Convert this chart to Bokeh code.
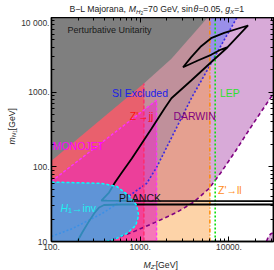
import math
import numpy as np
from bokeh.plotting import figure
from bokeh.layouts import column, row
from bokeh.models import Label, FixedTicker, LogAxis, Range1d
from bokeh.embed import file_html
from bokeh.resources import INLINE

# ---------------- axes ----------------
x_lo, x_hi = 100, 31800
y_lo, y_hi = 10, 10000
x_major = [100, 1000, 10000]
x_minor = [200, 300, 400, 500, 600, 700, 800, 900,
           2000, 3000, 4000, 5000, 6000, 7000, 8000, 9000, 20000, 30000]
y_major = [10, 100, 1000, 10000]
y_minor = [20, 30, 40, 50, 60, 70, 80, 90,
           200, 300, 400, 500, 600, 700, 800, 900,
           2000, 3000, 4000, 5000, 6000, 7000, 8000, 9000]
x_tick_labels = {100: "100.", 1000: "1000.", 10000: "10000."}
y_tick_labels = {10: "10.", 100: "100.", 1000: "1000.", 10000: "10 000."}

# ---------------- constraints ----------------
unit_mz = [100, 1100, 2249, 5758]          # perturbative unitarity boundary
unit_mn = [121, 1306, 2799, 10000]

zjj_mz = 1100                         # Z' -> jj
monojet_mz = 1530                     # MONOJET
monojet_top_mz = [100, 1530]
monojet_top_mn = [64, 780]
zll_mz = 6100                         # Z' -> ll
lep_mz = 7000                         # LEP

si_mz = [100, 172, 372, 706, 1183, 1528, 3758, 12300]
si_mn = [11.7, 14.9, 23.7, 38.8, 60, 98, 822, 10000]

darwin_mz = [422, 804, 1452, 2558, 3960, 5980, 8140, 11980, 16720, 22780, 31800, 40000]
darwin_mn = [10, 13.2, 17.9, 24.4, 33.3, 51.3, 84, 165.6, 307, 535, 960, 1500]
darwin2_mz = [26500, 27500, 29500, 31800]
darwin2_mn = [10, 11.2, 12.6, 13.2]

h1_mz = [100, 370, 545, 745, 915, 960, 890, 705, 505, 420]
h1_mn = [62.5, 60, 54.6, 41.3, 30.3, 22.3, 16.4, 12.8, 10.6, 10]

relic_a_mz = [195, 222, 259, 302, 344, 391, 621, 40000]
relic_a_mn = [10, 13.2, 17.9, 23.7, 28.5, 30.8, 31.3, 31.3]
relic_b_mz = [40000, 800, 420, 365, 445, 481, 519, 621, 804, 1040, 1344, 1878,
              2249, 3758, 6295, 9666, 16440,
              8851, 6295, 4864, 3758, 3039,
              4467, 6295, 8147, 9666]
relic_b_mn = [34.8, 34.9, 35.2, 35.4, 45.3, 53, 61.7, 84, 129, 205, 326, 604,
              830, 1432, 2518, 3999, 7816,
              6237, 5284, 4130, 2941, 2158,
              2655, 3163, 3724, 3999]

FONT = "Liberation Sans"

# ---------------- main plot ----------------
p = figure(width=256, height=237, x_axis_type="log", y_axis_type="log",
           x_range=Range1d(x_lo, x_hi), y_range=Range1d(y_lo, y_hi),
           output_backend="svg", toolbar_location=None,
           min_border_left=31, min_border_right=1, min_border_top=0,
           min_border_bottom=13)
p.grid.visible = False
p.background_fill_color = "white"
p.border_fill_color = "white"
p.outline_line_color = "black"
p.outline_line_width = 1.5

PURPLE = (158, 42, 158)
p.patch(darwin_mz + [darwin_mz[-1], x_lo, x_lo], darwin_mn + [y_hi, y_hi, y_lo],
        fill_color=PURPLE, fill_alpha=0.4, line_color=None)
p.patch(darwin2_mz + [darwin2_mz[-1]], darwin2_mn + [y_lo],
        fill_color=PURPLE, fill_alpha=0.4, line_color=None)
p.patch(si_mz + [x_lo], si_mn + [y_hi],
        fill_color=(80, 110, 255), fill_alpha=0.45, line_color=None)
p.patch([x_lo, zll_mz, zll_mz, x_lo], [y_lo, y_lo, y_hi, y_hi],
        fill_color=(250, 145, 38), fill_alpha=0.4, line_color=None)
p.patch([x_lo, zjj_mz, zjj_mz, x_lo], [y_lo, y_lo, y_hi, y_hi],
        fill_color=(255, 70, 85), fill_alpha=0.65, line_color=None)
p.patch([x_lo, monojet_mz, monojet_mz] + [monojet_top_mz[0]],
        [y_lo, y_lo, monojet_top_mn[1], monojet_top_mn[0]],
        fill_color=(240, 30, 200), fill_alpha=0.5, line_color=None)
p.patch(unit_mz + [x_lo], unit_mn + [y_hi],
        fill_color="#7f7f7f", fill_alpha=1.0, line_color=None)


def log_interp(x, xs, ys):
    return 10 ** np.interp(math.log10(x), np.log10(xs), np.log10(ys))

zjj_top = log_interp(zjj_mz, unit_mz, unit_mn)
p.line(si_mz, si_mn, line_color="#3a2ae0", line_dash="2 2", line_width=1.6)
p.line(darwin_mz, darwin_mn, line_color="#800080", line_dash="4 3", line_width=1.6)
p.line(darwin2_mz, darwin2_mn, line_color="#800080", line_dash="4 3", line_width=1.6)
p.line([zjj_mz, zjj_mz], [y_lo, zjj_top], line_color="#ff2a6a", line_dash="4 2", line_width=1.4)
p.line(monojet_top_mz + [monojet_mz], monojet_top_mn + [y_lo],
       line_color="#ff30ff", line_dash="3 2", line_width=1.4)
p.line([zll_mz, zll_mz], [y_lo, y_hi], line_color="#ff8c00", line_dash="4 2 1 2", line_width=1.5)
p.line([lep_mz, lep_mz], [y_lo, y_hi], line_color="#10e010", line_dash="2 2", line_width=1.6)
p.line(relic_a_mz, relic_a_mn, line_color="black", line_width=1.8)
p.line(relic_b_mz, relic_b_mn, line_color="black", line_width=1.8)

p.patch(h1_mz + [x_lo], h1_mn + [y_lo], fill_color=(60, 170, 230), fill_alpha=0.8,
        line_color=None)
p.line(h1_mz, h1_mn, line_color="#00ffff", line_dash="3 2", line_width=1.5)


def style_axis(ax, labels):
    ax.major_tick_in = 5
    ax.major_tick_out = 0
    ax.minor_tick_in = 3
    ax.minor_tick_out = 0
    ax.axis_line_color = "black"
    ax.axis_line_width = 1.5
    ax.major_tick_line_color = "black"
    ax.minor_tick_line_color = "black"
    ax.major_label_text_font = FONT
    ax.major_label_text_color = "#333333"
    if labels:
        ax.major_label_text_font_size = "8.5px"
        ax.major_label_standoff = 2
    else:
        ax.major_label_text_font_size = "1px"
        ax.major_label_text_alpha = 0
        ax.major_label_standoff = 0

p.xaxis[0].ticker = FixedTicker(ticks=x_major, minor_ticks=x_minor)
p.xaxis[0].major_label_overrides = x_tick_labels
p.yaxis[0].ticker = FixedTicker(ticks=y_major, minor_ticks=y_minor)
p.yaxis[0].major_label_overrides = y_tick_labels
style_axis(p.xaxis[0], True)
style_axis(p.yaxis[0], True)
top_ax = LogAxis(ticker=FixedTicker(ticks=x_major, minor_ticks=x_minor),
                 major_label_overrides={t: "" for t in x_major})
right_ax = LogAxis(ticker=FixedTicker(ticks=y_major, minor_ticks=y_minor),
                   major_label_overrides={t: "" for t in y_major})
style_axis(top_ax, False)
style_axis(right_ax, False)
p.add_layout(top_ax, "above")
p.add_layout(right_ax, "right")

# ---------------- text helpers ----------------
W = {' ': 278, ',': 278, '.': 278, '=': 584, '−': 584, '[': 278, ']': 278,
     "'": 191, '→': 838, 'θ': 556,
     'A': 667, 'B': 667, 'C': 722, 'D': 722, 'E': 667, 'G': 778, 'H': 722,
     'I': 278, 'J': 500, 'K': 667, 'L': 556, 'M': 833, 'N': 722, 'O': 778,
     'P': 667, 'R': 722, 'S': 667, 'T': 611, 'U': 722, 'V': 667, 'W': 944,
     'X': 667, 'Z': 611,
     'a': 556, 'b': 556, 'c': 500, 'd': 556, 'e': 556, 'g': 556, 'i': 222,
     'j': 222, 'l': 222, 'm': 833, 'n': 556, 'o': 556, 'r': 333, 's': 500,
     't': 278, 'u': 556, 'v': 500, 'x': 500, 'y': 500}


def tw(s, size):
    return sum(W.get(ch, 556) for ch in s) * size / 1000.0


def runs_label(fig, runs, x, y, units="screen", angle=0.0, color="black", baseline="alphabetic"):
    adv = 0.0
    for text, size, down, italic in runs:
        if angle == 0:
            xo, yo = adv, -down
        else:
            xo, yo = down, adv
        fig.add_layout(Label(x=x, y=y, x_units=units, y_units=units,
                             x_offset=xo, y_offset=yo, angle=angle,
                             text=text, text_font=FONT,
                             text_font_size="%.1fpx" % size,
                             text_font_style="italic" if italic else "normal",
                             text_color=color, text_baseline=baseline,
                             text_align="left"))
        adv += tw(text, size)


def blank_fig(w, h):
    b = figure(width=w, height=h, output_backend="svg", toolbar_location=None,
               x_axis_location=None, y_axis_location=None,
               x_range=Range1d(0, w), y_range=Range1d(0, h),
               min_border_left=0, min_border_right=0, min_border_top=0,
               min_border_bottom=0)
    b.outline_line_color = None
    b.grid.visible = False
    b.background_fill_color = "white"
    b.border_fill_color = "white"
    return b

f = 8.7
title_fig = blank_fig(274, 17)
runs_label(title_fig,
           [("B−L Majorana, ", f, 0, False), ("M", f, 0, True),
            ("H", 0.7 * f, 2.0, True), ("2", 0.55 * f, 3.5, False),
            ("=70 GeV, sin", f, 0, False), ("θ", f, 0, True),
            ("=0.05, ", f, 0, False), ("g", f, 0, True),
            ("X", 0.7 * f, 2.0, True), ("=1", f, 0, False)],
           69, 8.5, color="#222222")

ylab_fig = blank_fig(18, 237)
runs_label(ylab_fig,
           [("m", f, 0, True), ("N", 0.7 * f, 2.0, True), ("1", 0.55 * f, 3.0, False),
            (" [GeV]", f, 0, False)],
           11, 97, angle=math.pi / 2, color="#222222")

xlab_fig = blank_fig(274, 16)
runs_label(xlab_fig,
           [("M", f, 0, True), ("Z'", 0.7 * f, 2.0, True), (" [GeV]", f, 0, False)],
           143, 6, color="#222222")

# in-plot annotations (data units)
fs = 10.5
def dlabel(text, x, y, color, size=fs):
    p.add_layout(Label(x=x, y=y, text=text, text_font=FONT, text_font_size="%.1fpx" % size,
                       text_color=color, text_baseline="middle", text_align="left"))

dlabel("Perturbative Unitarity", 151, 6900, "#1a1a1a", 9.0)
dlabel("SI Excluded", 481, 960, "#2020e8")
dlabel("Z'→jj", 764, 486, "#ff1010")
dlabel("DARWIN", 2366, 486, "#800080")
dlabel("LEP", 7920, 960, "#30e030")
dlabel("MONOJET", 103, 193, "#ff00ff")
dlabel("PLANCK", 576, 38.8, "#111111")
dlabel("Z'→ll", 7534, 49.7, "#ff8c1a")
runs_label(p, [("H", fs, 0, True), ("1", 0.7 * fs, 2.5, False), ("→inv", fs, 0, False)],
           126, 28.5, units="data", color="#20f0f0", baseline="middle")

layout = column(title_fig, row(ylab_fig, p), xlab_fig)
open("out.html", "w").write(file_html(layout, INLINE))
